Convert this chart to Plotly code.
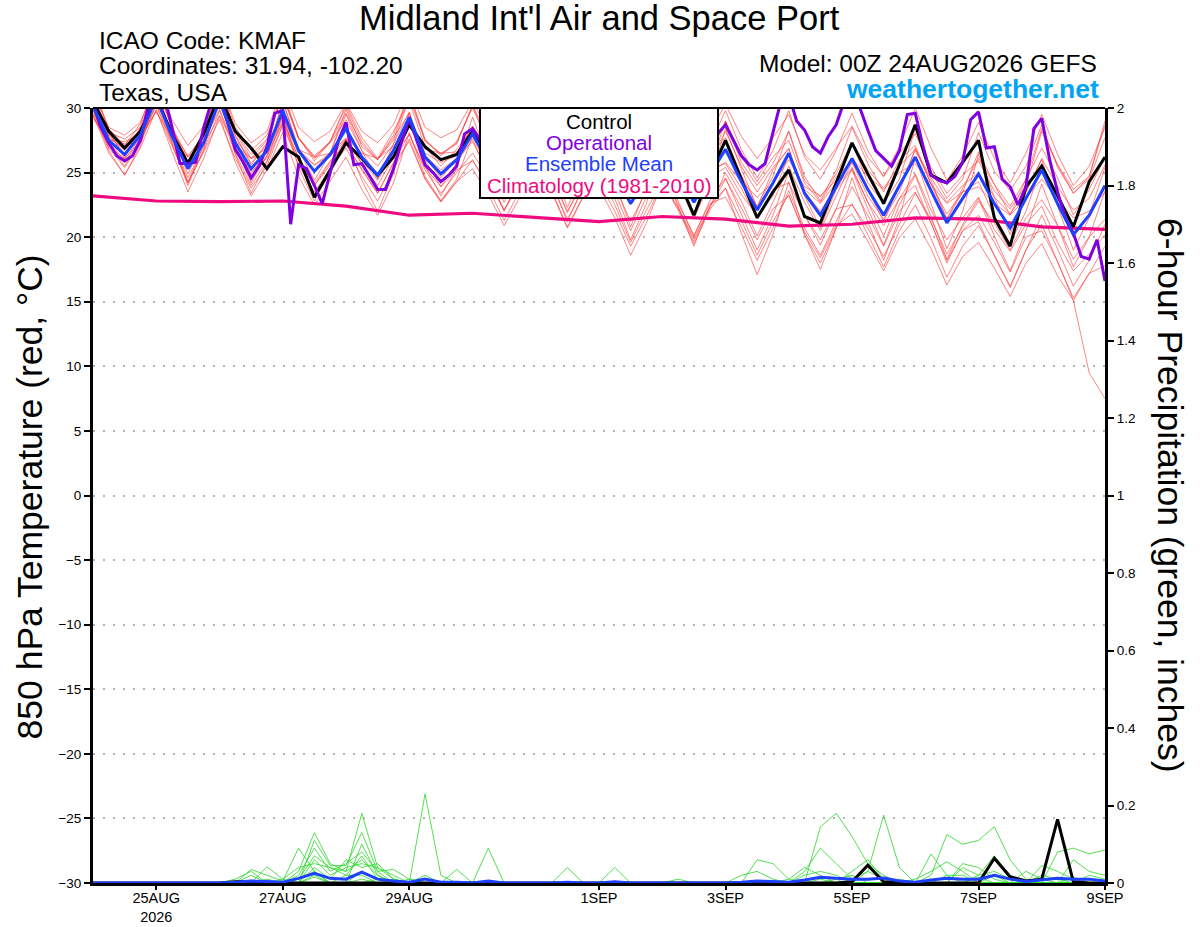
import pandas as pd
import plotly.graph_objects as go

# 6-hourly GEFS output, 24AUG2026 00Z .. 09SEP2026 00Z
times = pd.date_range("2026-08-24 00:00", periods=65, freq="6h")
op_times = pd.date_range("2026-08-24 00:00", periods=129, freq="3h")
clim_times = pd.date_range("2026-08-24 00:00", periods=17, freq="D")

tick_dates = ["2026-08-25", "2026-08-27", "2026-08-29", "2026-09-01",
              "2026-09-03", "2026-09-05", "2026-09-07", "2026-09-09"]
tick_labels = ["25AUG<br>2026", "27AUG", "29AUG", "1SEP", "3SEP", "5SEP", "7SEP", "9SEP"]

# 850 hPa temperature (C)
control_t = [30.5, 28.2, 26.9, 28.2, 30.8, 28.0, 25.7, 28.0,
             31.0, 28.2, 26.9, 25.3, 27.0, 26.2, 23.1, 25.2,
             27.3, 26.1, 24.8, 26.2, 28.7, 27.0, 26.0, 26.4,
             28.2, 26.5, 24.3, 26.0, 28.2, 26.0, 23.8, 25.8,
             27.8, 25.5, 23.2, 25.0, 27.3, 24.5, 21.7, 24.8,
             27.5, 24.5, 21.5, 23.5, 25.2, 21.6, 21.1, 24.2,
             27.3, 24.9, 22.6, 25.6, 28.7, 24.8, 24.2, 25.8,
             27.5, 21.5, 19.3, 23.9, 25.5, 23.2, 20.8, 24.3, 26.2]

mean_t = [30.2, 27.5, 26.4, 27.9, 30.8, 27.8, 25.3, 27.3,
          30.6, 27.3, 25.3, 26.7, 29.8, 26.7, 25.1, 26.4,
          28.4, 26.2, 24.8, 26.7, 29.3, 26.2, 24.9, 26.0,
          28.0, 25.8, 23.8, 25.6, 27.8, 25.8, 23.5, 25.4,
          27.6, 25.0, 22.6, 24.6, 27.0, 24.8, 22.7, 24.8,
          26.8, 24.3, 22.1, 24.2, 26.5, 23.4, 21.7, 23.9,
          26.1, 23.7, 21.7, 24.0, 26.2, 23.6, 21.1, 23.0,
          24.9, 22.6, 20.7, 23.0, 25.2, 22.6, 20.2, 21.7, 24.0]

operational_t = [30.3, 28.5, 27.3, 26.3, 25.9, 26.3, 27.5, 30.2,
                 31.0, 31.0, 28.5, 25.7, 25.7, 25.8, 28.5, 30.5,
                 31.0, 29.0, 26.8, 25.8, 24.6, 25.5, 27.0, 29.6,
                 29.8, 21.0, 25.6, 25.3, 24.0, 22.6, 25.0, 27.4,
                 28.9, 25.6, 25.7, 24.7, 23.7, 23.7, 25.3, 27.3,
                 29.2, 27.4, 25.6, 25.0, 24.3, 24.8, 25.5, 28.0,
                 28.4, 27.5, 26.5, 25.5, 24.5, 25.0, 26.0, 28.0,
                 28.8, 27.5, 26.2, 25.0, 24.2, 24.8, 26.0, 27.8,
                 28.5, 27.2, 26.0, 25.0, 24.0, 24.8, 26.0, 28.0,
                 29.0, 27.8, 26.5, 25.5, 24.8, 25.2, 26.5, 28.0,
                 28.7, 27.5, 26.3, 25.6, 25.2, 25.7, 28.0, 30.5,
                 31.0, 29.0, 28.3, 27.0, 26.5, 27.8, 28.7, 30.5,
                 31.0, 30.0, 28.3, 26.7, 26.1, 25.5, 26.7, 29.5,
                 29.6, 27.0, 24.8, 24.4, 24.2, 24.7, 25.8, 29.1,
                 29.7, 26.9, 27.0, 24.5, 23.9, 22.5, 23.9, 28.4,
                 29.2, 26.0, 23.5, 21.5, 20.3, 18.5, 18.3, 19.8,
                 16.6]

climatology_t = [23.2, 22.8, 22.75, 22.8, 22.4, 21.7, 21.85, 21.5, 21.2,
                 21.6, 21.4, 20.85, 21.0, 21.5, 21.4, 20.8, 20.6]

m01 = [31.0, 27.8, 26.7, 28.2, 31.9, 28.4, 25.9, 27.9, 31.9, 28.1, 26.1, 27.5, 31.3, 27.7, 26.1, 27.4,
       30.1, 27.4, 26.0, 27.9, 31.2, 27.6, 26.3, 27.4, 30.0, 27.3, 25.3, 27.1, 30.1, 27.6, 25.3, 27.2,
       30.1, 27.0, 24.6, 26.6, 29.8, 27.1, 25.0, 27.1, 29.8, 26.8, 24.6, 26.7, 29.8, 26.2, 24.5, 26.7,
       29.6, 26.7, 24.7, 27.0, 30.0, 26.9, 24.4, 26.3, 28.9, 26.1, 24.2, 26.5, 29.5, 26.4, 24.0, 25.5, 28.5]
m02 = [29.8, 27.1, 25.5, 27.5, 30.2, 27.2, 24.2, 26.7, 29.8, 26.5, 24.0, 25.9, 28.7, 25.6, 23.5, 25.3,
       26.9, 24.7, 22.8, 25.2, 27.6, 24.5, 22.7, 24.3, 26.0, 23.8, 21.3, 23.6, 25.6, 23.6, 20.8, 23.2,
       25.1, 22.5, 19.6, 22.1, 24.3, 22.1, 19.5, 22.1, 23.8, 21.3, 18.6, 21.2, 23.3, 20.2, 18.0, 20.7,
       22.6, 20.2, 17.7, 20.5, 22.5, 19.9, 16.9, 19.3, 20.9, 18.6, 16.2, 19.0, 21.7, 19.1, 16.2, 18.2, 21.0]
m03 = [30.4, 28.1, 27.6, 28.5, 30.8, 28.2, 26.3, 27.7, 30.4, 27.5, 26.1, 26.9, 29.3, 26.6, 25.6, 26.3,
       27.5, 25.7, 24.9, 26.2, 29.2, 26.5, 25.8, 26.3, 28.6, 26.8, 25.4, 26.6, 28.2, 26.6, 24.9, 26.2,
       27.7, 25.5, 23.7, 25.1, 26.4, 24.6, 23.1, 24.6, 25.4, 23.3, 21.7, 23.2, 26.4, 23.7, 22.6, 24.2,
       27.2, 25.2, 23.8, 25.5, 26.8, 24.6, 22.7, 24.0, 25.0, 23.1, 21.8, 23.5, 26.1, 23.9, 22.1, 23.0, 25.6]
m04 = [30.0, 26.7, 24.8, 27.1, 30.9, 27.3, 24.0, 26.8, 30.9, 27.0, 24.2, 26.4, 30.5, 26.8, 24.4, 26.5,
       29.5, 26.7, 24.5, 27.2, 29.7, 26.0, 23.9, 25.8, 27.6, 24.8, 22.0, 24.6, 26.9, 24.3, 21.2, 23.9,
       26.2, 23.0, 19.8, 22.6, 27.1, 24.3, 21.4, 24.3, 28.4, 25.3, 22.3, 25.2, 26.9, 23.2, 20.7, 23.7,
       25.2, 22.2, 19.4, 22.5, 24.8, 21.6, 18.3, 21.0, 23.0, 20.1, 17.4, 20.5, 24.1, 20.9, 17.7, 20.0, 23.6]
m05 = [30.6, 27.7, 26.8, 28.1, 31.7, 28.5, 26.2, 28.0, 32.0, 28.5, 26.7, 27.9, 30.9, 27.6, 26.2, 27.3,
       29.1, 26.7, 25.5, 27.2, 30.8, 27.5, 26.4, 27.3, 30.2, 27.8, 26.0, 27.6, 29.5, 27.3, 25.2, 26.9,
       28.8, 26.0, 23.8, 25.6, 28.7, 26.3, 24.4, 26.3, 29.0, 26.3, 24.3, 26.2, 27.5, 24.2, 22.7, 24.7,
       25.8, 23.2, 21.4, 23.5, 26.9, 24.1, 21.8, 23.5, 26.6, 24.1, 22.4, 24.5, 28.4, 25.6, 23.4, 24.7, 28.7]
m06 = [29.6, 27.2, 25.8, 27.6, 29.8, 27.1, 24.3, 26.6, 29.1, 26.1, 23.8, 25.5, 28.7, 25.9, 24.0, 25.6,
       27.6, 25.7, 24.0, 26.2, 29.0, 26.2, 24.6, 26.0, 28.2, 26.3, 24.0, 26.1, 26.3, 24.6, 22.0, 24.2,
       24.3, 22.0, 19.3, 21.6, 24.2, 22.3, 19.9, 22.3, 24.5, 22.3, 19.8, 22.2, 23.2, 20.4, 18.4, 20.9,
       21.8, 19.7, 17.4, 20.0, 21.4, 19.1, 16.3, 18.5, 19.6, 17.6, 15.4, 18.0, 19.5, 17.0, 15.1, 9.5, 7.5]
m07 = [31.5, 28.4, 27.1, 28.8, 31.9, 28.5, 25.8, 28.0, 31.5, 27.8, 25.6, 27.2, 31.2, 27.7, 25.9, 27.4,
       30.3, 27.7, 26.1, 28.2, 30.5, 27.0, 25.5, 26.8, 28.4, 25.8, 23.6, 25.6, 29.5, 27.1, 24.6, 26.7,
       30.5, 27.5, 24.9, 27.1, 28.9, 26.3, 24.0, 26.3, 27.7, 24.8, 22.4, 24.7, 28.2, 24.7, 22.8, 25.2,
       28.5, 25.7, 23.5, 26.0, 27.1, 24.1, 21.4, 23.5, 24.3, 21.6, 19.5, 22.0, 25.6, 22.6, 20.0, 21.7, 25.4]
m08 = [29.4, 26.9, 25.4, 27.3, 30.3, 27.5, 24.6, 27.0, 30.4, 27.3, 24.9, 26.7, 29.1, 26.2, 24.2, 25.9,
       27.2, 25.2, 23.4, 25.7, 27.4, 24.5, 22.8, 24.3, 25.3, 23.3, 20.9, 23.1, 25.9, 24.1, 21.4, 23.7,
       26.4, 24.0, 21.2, 23.6, 24.6, 22.6, 20.1, 22.6, 23.1, 20.8, 18.2, 20.7, 23.6, 20.7, 18.6, 21.2,
       23.9, 21.7, 19.3, 22.0, 23.5, 21.1, 18.2, 20.5, 21.7, 19.6, 17.3, 20.0, 20.5, 18.1, 15.3, 17.2, 17.8]
m09 = [31.3, 27.9, 27.2, 28.3, 31.4, 27.7, 25.6, 27.2, 30.7, 26.7, 25.1, 26.1, 30.6, 26.8, 25.6, 26.5,
       29.9, 27.0, 26.0, 27.5, 31.2, 27.4, 26.5, 27.2, 30.2, 27.3, 25.7, 27.1, 29.0, 26.3, 24.4, 25.9,
       27.8, 24.5, 22.5, 24.1, 28.2, 25.3, 23.6, 25.3, 29.0, 25.8, 24.0, 25.7, 28.2, 24.4, 23.1, 24.9,
       27.3, 24.2, 22.6, 24.5, 28.4, 25.1, 23.0, 24.5, 28.1, 25.1, 23.6, 25.5, 28.7, 25.4, 23.4, 24.5, 27.7]
m10 = [29.4, 27.3, 26.0, 27.7, 30.4, 28.0, 25.3, 27.5, 30.6, 27.9, 25.7, 27.3, 29.4, 26.9, 25.1, 26.6,
       27.6, 26.0, 24.4, 26.5, 27.9, 25.4, 23.9, 25.2, 25.9, 24.3, 22.1, 24.1, 27.2, 25.8, 23.3, 25.4,
       28.5, 26.5, 23.9, 26.1, 26.9, 25.3, 23.0, 25.3, 25.7, 23.8, 21.4, 23.7, 24.2, 21.7, 19.8, 22.2,
       22.5, 20.7, 18.5, 21.0, 23.4, 21.4, 18.7, 20.8, 22.8, 21.1, 19.0, 21.5, 22.9, 20.9, 18.3, 20.0, 21.4]
m11 = [31.2, 28.5, 27.9, 28.9, 32.1, 29.1, 27.1, 28.6, 32.1, 28.8, 27.3, 28.2, 31.6, 28.5, 27.4, 28.2,
       30.4, 28.2, 27.3, 28.7, 31.6, 28.5, 27.7, 28.3, 30.5, 28.3, 26.8, 28.1, 30.6, 28.6, 26.8, 28.2,
       30.6, 28.0, 26.1, 27.6, 30.3, 28.1, 26.5, 28.1, 30.3, 27.8, 26.1, 27.7, 29.5, 26.4, 25.2, 26.9,
       28.6, 26.2, 24.7, 26.5, 28.0, 25.4, 23.4, 24.8, 25.9, 23.6, 22.2, 24.0, 28.2, 25.6, 23.7, 24.7, 29.0]
m12 = [29.5, 26.5, 24.8, 26.9, 29.9, 26.6, 23.5, 26.1, 29.4, 25.8, 23.2, 25.2, 28.1, 24.7, 22.5, 24.4,
       26.2, 23.7, 21.7, 24.2, 28.1, 24.7, 22.8, 24.5, 27.8, 25.3, 22.7, 25.1, 27.1, 24.8, 21.9, 24.4,
       26.4, 23.5, 20.5, 23.1, 25.3, 22.8, 20.1, 22.8, 24.6, 21.8, 19.0, 21.7, 25.1, 21.7, 19.4, 22.2,
       25.4, 22.7, 20.1, 23.0, 24.0, 21.1, 18.0, 20.5, 21.2, 18.6, 16.1, 19.0, 21.0, 18.1, 15.1, 17.2, 19.3]
m13 = [29.2, 27.5, 27.4, 27.9, 29.7, 27.7, 26.2, 27.2, 29.4, 27.1, 26.1, 26.5, 28.9, 26.8, 26.2, 26.5,
       27.7, 26.5, 26.1, 27.0, 28.9, 26.8, 26.5, 26.6, 27.8, 26.6, 25.6, 26.4, 27.4, 26.4, 25.1, 26.0,
       26.9, 25.3, 23.9, 24.9, 26.2, 25.0, 23.9, 25.0, 25.8, 24.3, 23.1, 24.2, 26.0, 23.9, 23.2, 24.4,
       26.1, 24.7, 23.7, 25.0, 25.7, 24.1, 22.6, 23.5, 23.9, 22.6, 21.7, 23.0, 24.5, 22.9, 21.5, 22.0, 23.5]
m14 = [31.9, 28.2, 26.1, 28.6, 31.7, 27.7, 24.2, 27.2, 30.7, 26.4, 23.4, 25.8, 29.5, 25.4, 22.8, 25.1,
       27.6, 24.4, 22.0, 24.9, 29.6, 25.5, 23.2, 25.3, 29.3, 26.1, 23.1, 25.9, 28.6, 25.6, 22.3, 25.2,
       27.8, 24.2, 20.8, 23.8, 25.6, 22.4, 19.3, 22.4, 23.8, 20.3, 17.1, 20.2, 24.3, 20.2, 17.5, 20.7,
       24.6, 21.2, 18.2, 21.5, 26.2, 22.6, 19.1, 22.0, 26.4, 23.1, 20.2, 23.5, 26.0, 22.4, 19.0, 21.5, 24.0]
m15 = [29.9, 27.0, 26.1, 27.4, 31.2, 28.0, 25.7, 27.5, 31.7, 28.2, 26.4, 27.6, 31.0, 27.7, 26.3, 27.4,
       29.6, 27.2, 26.0, 27.7, 29.6, 26.3, 25.2, 26.1, 27.4, 25.0, 23.2, 24.8, 28.0, 25.8, 23.7, 25.4,
       28.6, 25.8, 23.6, 25.4, 28.2, 25.8, 23.9, 25.8, 28.2, 25.5, 23.5, 25.4, 26.8, 23.5, 22.0, 24.0,
       25.3, 22.7, 20.9, 23.0, 24.9, 22.1, 19.8, 21.5, 23.1, 20.6, 18.9, 21.0, 22.4, 19.6, 17.4, 18.7, 20.2]
m16 = [30.4, 28.0, 26.4, 28.4, 30.6, 27.9, 24.9, 27.4, 29.9, 26.9, 24.4, 26.3, 28.9, 26.1, 24.0, 25.8,
       27.2, 25.3, 23.4, 25.8, 28.0, 25.2, 23.4, 25.0, 26.5, 24.6, 22.1, 24.4, 25.2, 23.5, 20.7, 23.1,
       23.8, 21.5, 18.6, 21.1, 24.2, 22.3, 19.7, 22.3, 25.0, 22.8, 20.1, 22.7, 25.5, 22.7, 20.5, 23.2,
       25.8, 23.7, 21.2, 24.0, 26.7, 24.4, 21.4, 23.8, 26.1, 24.1, 21.7, 24.5, 26.9, 24.6, 21.7, 23.7, 26.2]
members_t = [m01, m02, m03, m04, m05, m06, m07, m08, m09, m10, m11, m12, m13, m14, m15, m16]

# 6-hour precipitation (inches)
control_p = [0, 0, 0, 0, 0, 0, 0, 0,
             0, 0.003, 0.004, 0, 0, 0, 0, 0,
             0, 0, 0, 0, 0, 0, 0, 0,
             0, 0, 0, 0, 0, 0, 0, 0,
             0, 0, 0, 0, 0, 0, 0, 0,
             0, 0, 0, 0, 0, 0, 0, 0,
             0.003, 0.046, 0.003, 0, 0, 0, 0, 0,
             0, 0.064, 0.016, 0.005, 0.01, 0.164, 0.003, 0, 0]
mean_p = [0, 0, 0, 0, 0, 0, 0, 0,
          0, 0.002, 0.005, 0.004, 0.002, 0.012, 0.025, 0.012,
          0.01, 0.028, 0.01, 0.005, 0.002, 0.01, 0.002, 0.002,
          0, 0.005, 0, 0, 0, 0, 0.002, 0,
          0, 0.003, 0, 0, 0, 0, 0, 0,
          0, 0.002, 0.005, 0.004, 0.002, 0.008, 0.015, 0.012,
          0.01, 0.01, 0.013, 0.005, 0.002, 0.008, 0.012, 0.01,
          0.01, 0.02, 0.01, 0.004, 0.008, 0.012, 0.01, 0.01, 0.005]

z8 = [0] * 8
p01 = (z8 + [0, 0, 0, 0, 0, 0.03, 0.13, 0.05] + [0.03, 0.18, 0.04, 0.01, 0, 0, 0, 0] + z8 + z8
       + [0, 0, 0, 0, 0, 0, 0.145, 0.18] + [0.12, 0.05, 0.02, 0, 0, 0, 0, 0] + z8 + [0])
p02 = (z8 + [0, 0, 0.035, 0.02, 0.005, 0.09, 0.03, 0] + [0, 0.10, 0.02, 0, 0, 0.23, 0.02, 0] + z8 + z8
       + z8 + [0, 0, 0, 0, 0, 0.02, 0.125, 0.1] + [0.11, 0.145, 0.06, 0.01, 0, 0, 0, 0] + [0])
p03 = (z8 + [0, 0, 0, 0.042, 0.01, 0, 0.11, 0.045] + [0.045, 0.13, 0.03, 0, 0, 0, 0, 0]
       + [0, 0.09, 0, 0, 0, 0, 0, 0] + z8
       + [0, 0, 0, 0, 0, 0.03, 0.09, 0.05] + [0.01, 0.03, 0.175, 0.04, 0, 0, 0, 0] + z8 + [0])
p04 = (z8 + [0, 0.01, 0.03, 0, 0, 0.02, 0.09, 0.03] + [0.05, 0.08, 0.03, 0.035, 0.01, 0, 0, 0] + z8 + z8
       + [0, 0, 0.06, 0.05, 0.01, 0, 0, 0] + [0, 0, 0, 0, 0, 0, 0, 0.04]
       + [0.02, 0.07, 0.02, 0, 0, 0.08, 0.09, 0.075] + [0.085])
p05 = (z8 + [0, 0, 0.02, 0, 0, 0.01, 0.07, 0.04] + [0.03, 0.06, 0.02, 0, 0, 0, 0, 0.035] + z8
       + [0, 0.04, 0, 0, 0, 0, 0, 0] + z8
       + [0.03, 0.06, 0.01, 0, 0, 0.075, 0.02, 0] + [0, 0.065, 0.01, 0, 0, 0, 0, 0] + [0])
p06 = (z8 + [0, 0, 0, 0.01, 0, 0, 0.06, 0.02] + [0.04, 0.05, 0.04, 0.02, 0, 0, 0, 0]
       + [0, 0, 0, 0, 0, 0, 0.04, 0] + z8 + z8
       + [0, 0, 0, 0, 0.01, 0.03, 0.055, 0.03] + [0, 0, 0, 0, 0, 0, 0.06, 0.03] + [0.02])
p07 = (z8 + [0, 0, 0, 0, 0.01, 0.04, 0.05, 0.04] + [0.02, 0.07, 0.01, 0, 0.01, 0, 0, 0] + z8 + z8
       + [0, 0, 0, 0, 0, 0.02, 0.03, 0.02] + [0, 0, 0, 0, 0, 0, 0, 0.05]
       + [0.04, 0.01, 0, 0, 0.045, 0.03, 0.01, 0] + [0])
p08 = (z8 + [0, 0, 0, 0, 0, 0, 0.04, 0.01] + [0.06, 0.04, 0.05, 0.01, 0, 0, 0, 0] + z8 + z8
       + [0, 0.02, 0.03, 0.01, 0, 0, 0, 0] + [0, 0.03, 0.01, 0, 0, 0, 0, 0]
       + [0.02, 0.03, 0.01, 0, 0, 0, 0, 0.02] + [0.01])
p09 = (z8 + [0, 0, 0, 0, 0, 0.01, 0.03, 0] + [0, 0.03, 0.01, 0, 0, 0.02, 0, 0] + z8
       + [0, 0, 0, 0, 0, 0.01, 0, 0] + [0, 0, 0, 0, 0.01, 0.04, 0.02, 0]
       + [0, 0, 0, 0, 0, 0, 0.02, 0.02] + [0, 0, 0, 0, 0.02, 0.01, 0, 0] + [0])
p10 = (z8 + [0, 0, 0, 0, 0, 0, 0.02, 0] + [0.02, 0.02, 0, 0.01, 0, 0, 0, 0] + z8 + z8
       + [0, 0, 0, 0, 0, 0, 0, 0.01] + [0.02, 0, 0, 0.01, 0, 0, 0, 0]
       + [0, 0, 0, 0.03, 0.01, 0, 0, 0] + [0])
p11 = z8 + z8 + [0, 0.01, 0, 0, 0, 0, 0, 0] + z8 * 4 + [0.015, 0, 0, 0, 0, 0, 0, 0] + [0]
p12 = z8 + [0, 0, 0, 0, 0, 0, 0.015, 0] + z8 * 6 + [0]
p13 = z8 * 5 + [0, 0, 0, 0, 0, 0, 0.01, 0] + z8 + [0, 0.02, 0, 0, 0, 0, 0, 0] + [0]
p14 = z8 * 2 + [0, 0, 0.01, 0, 0, 0, 0, 0] + z8 * 5 + [0]
p15 = z8 + [0, 0.005, 0, 0, 0, 0, 0, 0] + z8 * 6 + [0]
p16 = z8 * 7 + [0, 0, 0, 0, 0, 0, 0.015, 0] + [0]
members_p = [p01, p02, p03, p04, p05, p06, p07, p08, p09, p10, p11, p12, p13, p14, p15, p16]

FONT = "Liberation Sans, Arial, sans-serif"
RED = "rgba(255,50,50,0.75)"
GREEN = "rgb(40,215,40)"
BLACK = "black"
PURPLE = "rgb(128,0,224)"
BLUE = "rgb(30,64,255)"
PINK = "rgb(240,10,128)"

fig = go.Figure()

for m in members_t:
    fig.add_trace(go.Scatter(x=times, y=m, mode="lines",
                             line=dict(color=RED, width=0.8), hoverinfo="skip"))

fig.add_trace(go.Scatter(x=clim_times, y=climatology_t, mode="lines",
                         line=dict(color=PINK, width=3.2), hoverinfo="skip"))
fig.add_trace(go.Scatter(x=times, y=control_t, mode="lines",
                         line=dict(color=BLACK, width=3), hoverinfo="skip"))
fig.add_trace(go.Scatter(x=op_times, y=operational_t, mode="lines",
                         line=dict(color=PURPLE, width=3), hoverinfo="skip"))
fig.add_trace(go.Scatter(x=times, y=mean_t, mode="lines",
                         line=dict(color=BLUE, width=3), hoverinfo="skip"))

for p in members_p:
    fig.add_trace(go.Scatter(x=times, y=p, yaxis="y2", mode="lines",
                             line=dict(color=GREEN, width=0.8), hoverinfo="skip"))
fig.add_trace(go.Scatter(x=times, y=control_p, yaxis="y2", mode="lines",
                         line=dict(color=BLACK, width=3), hoverinfo="skip"))
fig.add_trace(go.Scatter(x=times, y=mean_p, yaxis="y2", mode="lines",
                         line=dict(color=BLUE, width=3), hoverinfo="skip"))

fig.update_layout(
    width=1200, height=927,
    margin=dict(l=93, r=95, t=108, b=44, autoexpand=False),
    paper_bgcolor="white", plot_bgcolor="white",
    showlegend=False,
    font=dict(family=FONT, color="black"),
    xaxis=dict(type="date", range=[times[0], times[-1]], automargin=False,
               tickvals=tick_dates, ticktext=tick_labels,
               ticks="outside", ticklen=4, tickwidth=1.5, tickcolor="black",
               ticklabelstandoff=-4,
               tickfont=dict(size=14.5), showgrid=False, zeroline=False,
               showline=True, linewidth=3, linecolor="black"),
    yaxis=dict(range=[-30, 30], tick0=-30, dtick=5, automargin=False,
               ticks="outside", ticklen=6, tickwidth=1.5, tickcolor="black",
               tickfont=dict(size=13.5), showgrid=True, gridcolor="#b4b4b4",
               gridwidth=1.5, griddash="2px,8px", zeroline=False,
               showline=True, linewidth=3, linecolor="black"),
    yaxis2=dict(range=[0, 2], tick0=0, dtick=0.2, overlaying="y", side="right",
                automargin=False,
                ticks="outside", ticklen=6, tickwidth=1.5, tickcolor="black",
                tickfont=dict(size=13.5), showgrid=False, zeroline=False,
                showline=True, linewidth=3, linecolor="black"),
)

# top border of the plot box
fig.add_shape(type="line", xref="paper", yref="paper", x0=0, x1=1, y0=1, y1=1,
              line=dict(color="black", width=2))

# legend box
fig.add_shape(type="rect", xref="paper", yref="paper", x0=0.3824, x1=0.6176,
              y0=0.8839, y1=1.0, fillcolor="white", layer="above",
              line=dict(color="black", width=2))
legend_items = [("Control", BLACK, 0.9832), ("Operational", PURPLE, 0.9561),
                ("Ensemble Mean", BLUE, 0.9290), ("Climatology (1981-2010)", PINK, 0.9006)]
for text, color, ypos in legend_items:
    fig.add_annotation(text=text, xref="paper", yref="paper", x=0.5, y=ypos,
                       xanchor="center", yanchor="middle", showarrow=False,
                       font=dict(size=20.5, color=color))

# header texts
fig.add_annotation(text="Midland Int'l Air and Space Port", xref="paper", yref="paper",
                   x=0.5, y=1.116, xanchor="center", yanchor="middle", showarrow=False,
                   font=dict(size=34.5))
for text, ypos in [("ICAO Code: KMAF", 1.0877), ("Coordinates: 31.94, -102.20", 1.0542),
                   ("Texas, USA", 1.0206)]:
    fig.add_annotation(text=text, xref="paper", yref="paper", x=0.004, y=ypos,
                       xanchor="left", yanchor="middle", showarrow=False,
                       font=dict(size=24.5))
fig.add_annotation(text="Model: 00Z 24AUG2026 GEFS", xref="paper", yref="paper",
                   x=0.9945, y=1.0580, xanchor="right", yanchor="middle", showarrow=False,
                   font=dict(size=24.5))
fig.add_annotation(text="<b>weathertogether.net</b>", xref="paper", yref="paper",
                   x=0.9965, y=1.0245, xanchor="right", yanchor="middle", showarrow=False,
                   font=dict(size=26.5, color="rgb(0,164,245)"))

# axis titles
fig.add_annotation(text="850 hPa Temperature (red, °C)", xref="paper", yref="paper",
                   x=-0.0623, y=0.4987, xanchor="center", yanchor="middle", showarrow=False,
                   textangle=-90, font=dict(size=35.5))
fig.add_annotation(text="6-hour Precipitation (green, inches)", xref="paper", yref="paper",
                   x=1.0642, y=0.5006, xanchor="center", yanchor="middle", showarrow=False,
                   textangle=90, font=dict(size=35.5))

# the page must not add its own margin around the 1200x927 figure
fig.write_html("out.html", config={"displayModeBar": False},
               post_script="document.body.style.margin='0';document.body.style.overflow='hidden';")
